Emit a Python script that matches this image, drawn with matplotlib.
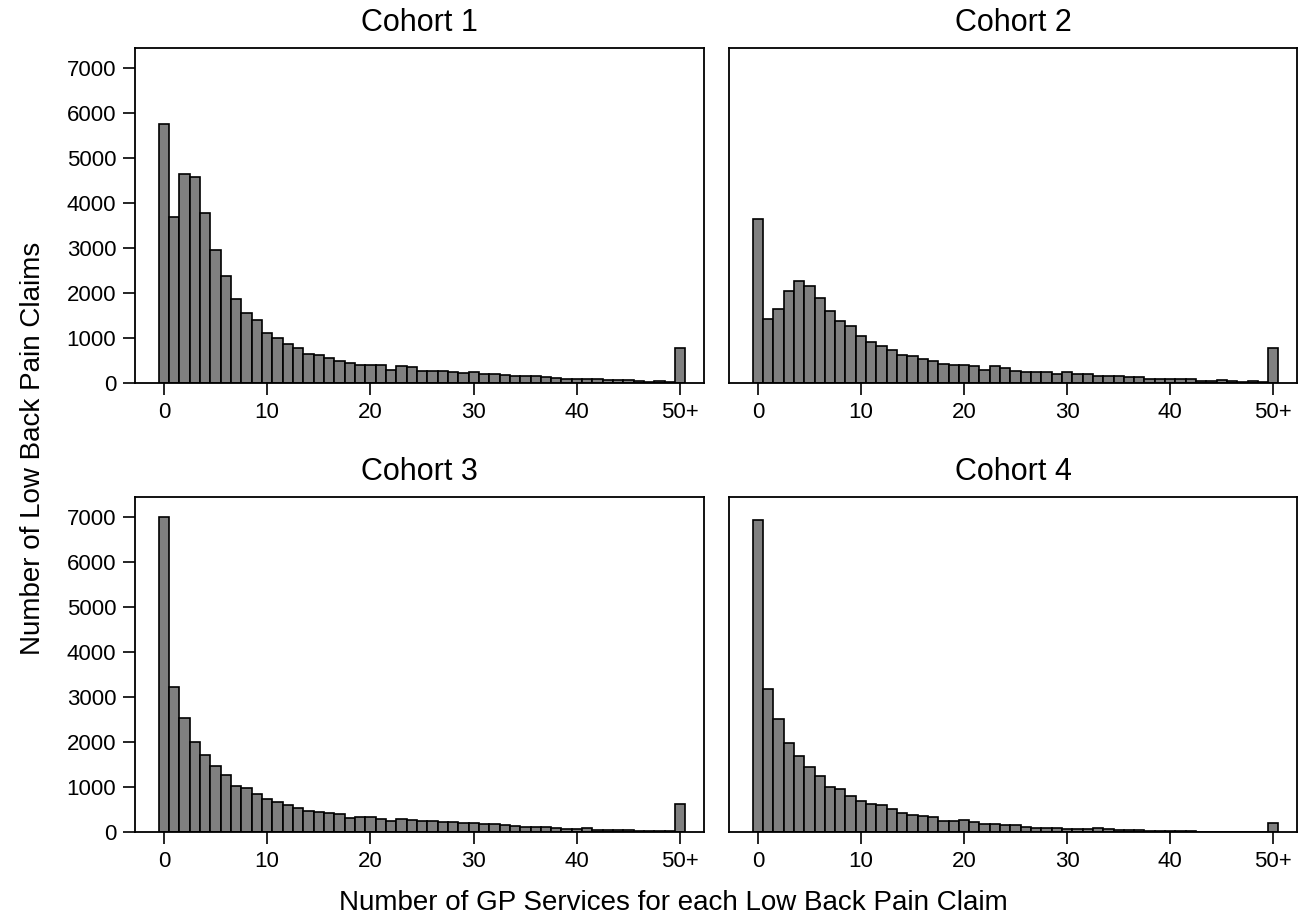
import matplotlib.pyplot as plt

plt.rcParams['font.family'] = ['Liberation Sans', 'DejaVu Sans']

bins = list(range(51))
tick_pos = [0, 10, 20, 30, 40, 50]
tick_labels = ["0", "10", "20", "30", "40", "50+"]

cohort1 = [5750, 3700, 4650, 4580, 3780, 2960, 2380, 1870, 1550, 1400,
           1120, 990, 860, 770, 650, 630, 560, 500, 450, 410,
           400, 390, 300, 370, 350, 270, 260, 265, 245, 215,
           237, 195, 207, 170, 156, 148, 148, 133, 104, 90,
           96, 96, 89, 60, 60, 67, 40, 32, 44, 15,
           780]
cohort2 = [3650, 1420, 1650, 2040, 2260, 2150, 1890, 1610, 1370, 1260,
           1050, 910, 820, 730, 630, 600, 540, 480, 430, 390,
           390, 380, 290, 370, 335, 270, 255, 252, 235, 205,
           235, 190, 205, 165, 150, 145, 140, 125, 95, 85,
           90, 90, 80, 55, 55, 62, 38, 30, 40, 15,
           780]
cohort3 = [7000, 3220, 2540, 2000, 1720, 1460, 1260, 1030, 980, 850,
           740, 660, 610, 540, 460, 440, 420, 400, 320, 330,
           330, 300, 250, 280, 265, 240, 235, 222, 220, 195,
           200, 178, 168, 160, 140, 120, 118, 108, 88, 72,
           68, 78, 55, 40, 52, 38, 22, 28, 28, 22,
           620]
cohort4 = [6930, 3190, 2520, 1990, 1690, 1450, 1240, 1000, 950, 810,
           700, 620, 590, 510, 420, 385, 355, 325, 255, 255,
           260, 215, 170, 170, 160, 150, 120, 96, 96, 89,
           74, 59, 59, 89, 59, 44, 37, 37, 30, 30,
           22, 22, 15, 8, 8, 5, 5, 5, 5, 5,
           190]

cohorts = [cohort1, cohort2, cohort3, cohort4]
titles = ["Cohort 1", "Cohort 2", "Cohort 3", "Cohort 4"]

fig = plt.figure(figsize=(13.04, 9.17), dpi=100)
W, H = 1304, 917
boxes = [(135, 48, 704, 383), (729, 48, 1297, 383),
         (135, 497, 704, 832), (729, 497, 1297, 832)]

for i, (vals, title, box) in enumerate(zip(cohorts, titles, boxes)):
    l, t, r, b = box
    ax = fig.add_axes([l / W, 1 - b / H, (r - l) / W, (b - t) / H])
    ax.bar(bins, vals, width=1.0, color="#808080", edgecolor="black", linewidth=1.2)
    ax.set_xlim(-2.8, 52.3)
    ax.set_ylim(0, 7450)
    ax.set_xticks(tick_pos)
    ax.set_xticklabels(tick_labels)
    ax.set_title(title, fontsize=22, pad=12)
    ax.tick_params(direction="out", length=8.5, width=1.2, labelsize=16, pad=5)
    for s in ax.spines.values():
        s.set_linewidth(1.3)
    if i % 2 == 0:
        ax.set_yticks(range(0, 7001, 1000))
    else:
        ax.set_yticks([])

fig.text(33 / W, 1 - 448 / H, "Number of Low Back Pain Claims", rotation=90,
         fontsize=20, ha="center", va="center")
fig.text(673 / W, 1 - 903 / H, "Number of GP Services for each Low Back Pain Claim",
         fontsize=20, ha="center", va="center")

fig.savefig("out.png", dpi=100)
